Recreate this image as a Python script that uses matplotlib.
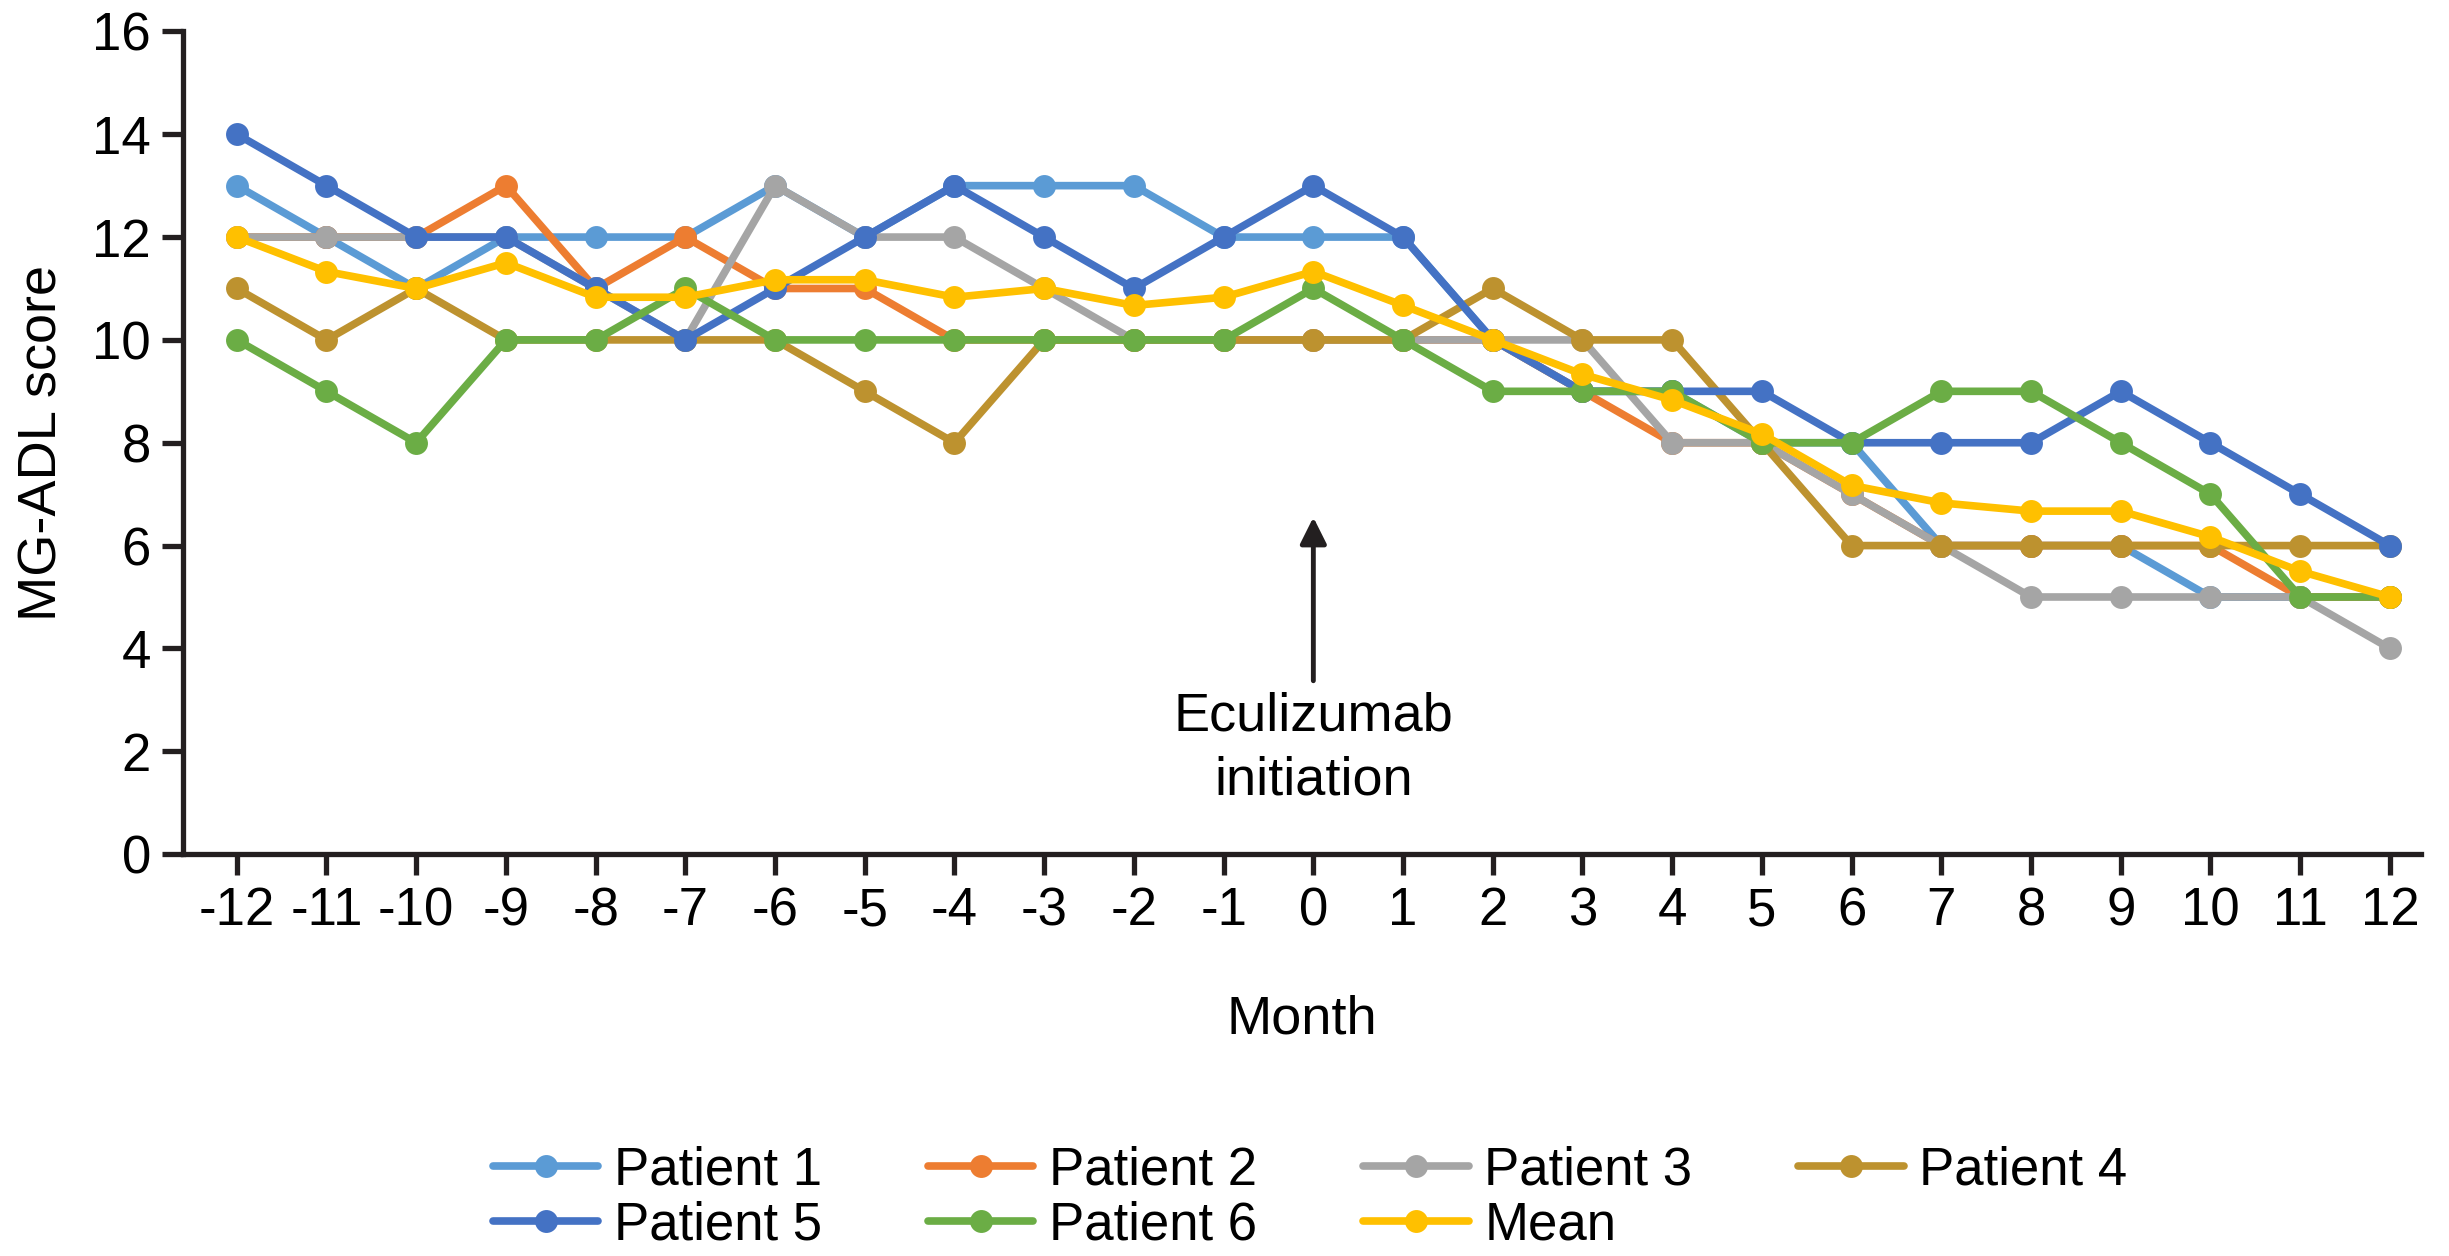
import matplotlib
matplotlib.use("Agg")
import matplotlib.pyplot as plt

plt.rcParams['font.family'] = ['Liberation Sans', 'DejaVu Sans']
plt.rcParams['axes.unicode_minus'] = False

months = list(range(-12, 13))
month_labels = [str(m) for m in months]

patient1 = [13, 12, 11, 12, 12, 12, 13, 12, 13, 13, 13, 12, 12, 12, 10, 9, 9, 8, 8, 6, 6, 6, 5, 5, 5]
patient2 = [12, 12, 12, 13, 11, 12, 11, 11, 10, 10, 10, 10, 10, 10, 10, 9, 8, 8, 7, 6, 6, 6, 6, 5, 5]
patient3 = [12, 12, 12, 12, 11, 10, 13, 12, 12, 11, 10, 10, 10, 10, 10, 10, 8, 8, 7, 6, 5, 5, 5, 5, 4]
patient4 = [11, 10, 11, 10, 10, 10, 10, 9, 8, 10, 10, 10, 10, 10, 11, 10, 10, 8, 6, 6, 6, 6, 6, 6, 6]
patient5 = [14, 13, 12, 12, 11, 10, 11, 12, 13, 12, 11, 12, 13, 12, 10, 9, 9, 9, 8, 8, 8, 9, 8, 7, 6]
patient6 = [10, 9, 8, 10, 10, 11, 10, 10, 10, 10, 10, 10, 11, 10, 9, 9, 9, 8, 8, 9, 9, 8, 7, 5, 5]
mean = [12, 11.33, 11, 11.5, 10.83, 10.83, 11.17, 11.17, 10.83, 11, 10.67, 10.83, 11.33,
        10.67, 10, 9.33, 8.83, 8.17, 7.17, 6.83, 6.67, 6.67, 6.17, 5.5, 5]

series = [
    ('Patient 1', patient1, '#5B9BD5'),
    ('Patient 2', patient2, '#ED7D31'),
    ('Patient 3', patient3, '#A5A5A5'),
    ('Patient 4', patient4, '#BD922F'),
    ('Patient 5', patient5, '#4472C4'),
    ('Patient 6', patient6, '#6BAD45'),
    ('Mean', mean, '#FFC000'),
]

fig = plt.figure(figsize=(24.49, 12.56), dpi=100)
ax = fig.add_axes([0.0747, 0.320, 0.914, 0.655])

handles = {}
for name, vals, col in series:
    h, = ax.plot(months, vals, color=col, lw=5.5, marker='o', ms=16.5,
                 markeredgewidth=0, solid_capstyle='round', label=name)
    handles[name] = h

ax.set_xlim(-12.6, 12.35)
ax.set_ylim(0, 16)
ax.set_yticks(range(0, 17, 2))
ax.set_xticks(months)
ax.set_xticklabels(month_labels)

for s in ['top', 'right']:
    ax.spines[s].set_visible(False)
for s in ['left', 'bottom']:
    ax.spines[s].set_linewidth(3.8)
    ax.spines[s].set_color('#231F20')
ax.tick_params(axis='both', direction='out', length=15, width=3.8,
               color='#231F20', labelsize=38, pad=8)

ax.set_ylabel('MG-ADL score', fontsize=39, labelpad=18)
ax.set_xlabel('Month', fontsize=39, labelpad=42)

ax.annotate('Eculizumab\ninitiation', xy=(0, 6.55), xytext=(0, 2.05),
            ha='center', va='center', fontsize=39, linespacing=1.35,
            arrowprops=dict(arrowstyle='-|>', color='#231F20', lw=3.5,
                            mutation_scale=40, shrinkA=6, shrinkB=0))

order = ['Patient 1', 'Patient 5', 'Patient 2', 'Patient 6', 'Patient 3', 'Mean', 'Patient 4']
fig.legend([handles[n] for n in order], order, ncol=4, loc='center',
           bbox_to_anchor=(0.535, 0.046), frameon=False, fontsize=38,
           handlelength=2.0, handletextpad=0.3, columnspacing=2.0,
           labelspacing=0.1, numpoints=1)

fig.savefig('out.png', dpi=100)
